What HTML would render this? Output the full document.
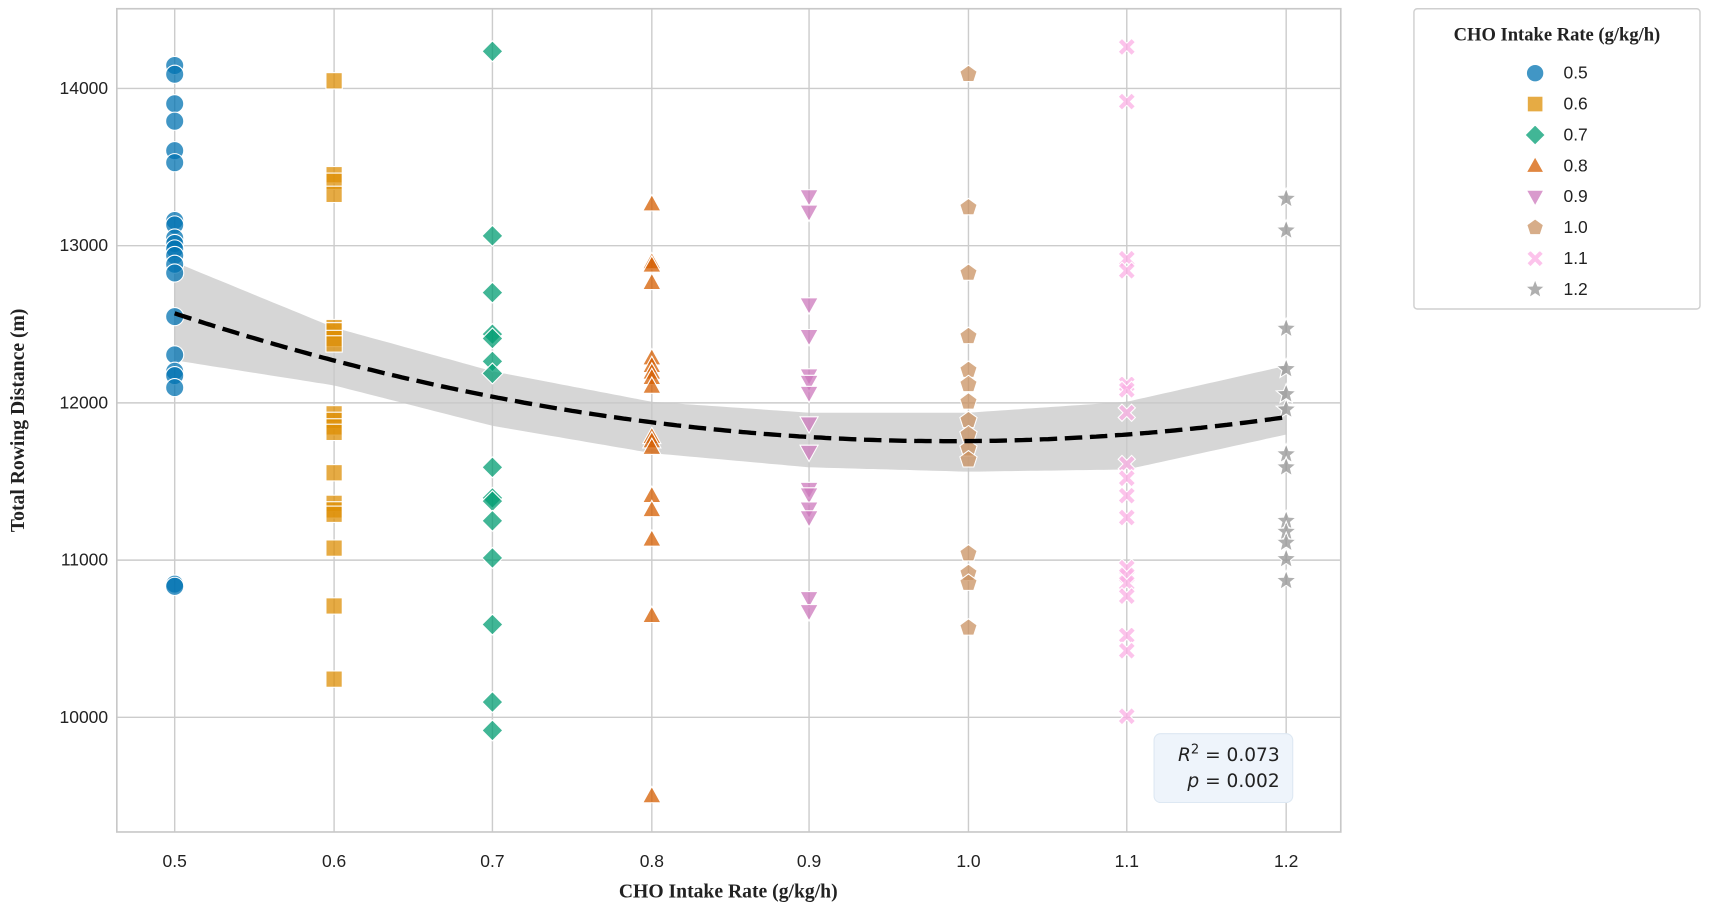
<!DOCTYPE html>
<html><head><meta charset="utf-8"><style>
html,body{margin:0;padding:0;background:#fff;}
svg{display:block;}
</style></head><body>
<svg id="s" width="1712" height="913" viewBox="0 0 1568 836.2" xmlns="http://www.w3.org/2000/svg">
<rect x="0" y="0" width="1568" height="837" fill="#fff"/>
<g id="grid" stroke="#cccccc" stroke-width="1.3"></g>
<path id="band" fill="#c8c8c8" fill-opacity="0.75"/>
<g id="pts"></g>
<path id="fit" fill="none" stroke="#000" stroke-width="4" stroke-dasharray="16,7"/>
<rect x="107" y="8" width="1121" height="754" fill="none" stroke="#c8c8c8" stroke-width="1.5"/>
<g id="tl" font-family="Liberation Sans, Arial, sans-serif" font-size="16" fill="#222"></g>
<text x="667" y="822" text-anchor="middle" font-family="Liberation Serif, serif" font-weight="bold" font-size="18" fill="#222">CHO Intake Rate (g/kg/h)</text>
<text transform="translate(22,385) rotate(-90)" text-anchor="middle" font-family="Liberation Serif, serif" font-weight="bold" font-size="18" fill="#222">Total Rowing Distance (m)</text>
<rect x="1057" y="672" width="127" height="63" rx="6" fill="#eef4fb" stroke="#dde8f3"/>
<text x="1172" y="697" text-anchor="end" font-family="DejaVu Sans, sans-serif" font-size="17" fill="#222"><tspan font-style="italic">R</tspan><tspan dy="-7" font-size="12">2</tspan><tspan dy="7"> = 0.073</tspan></text>
<text x="1172" y="721" text-anchor="end" font-family="DejaVu Sans, sans-serif" font-size="17" fill="#222"><tspan font-style="italic">p</tspan> = 0.002</text>
<rect x="1295" y="8" width="262" height="275" rx="3" fill="#fff" stroke="#cfcfcf" stroke-width="1.3"/>
<text x="1426" y="37" text-anchor="middle" font-family="Liberation Serif, serif" font-weight="bold" font-size="17" fill="#222">CHO Intake Rate (g/kg/h)</text>
<g id="leg" font-family="Liberation Sans, Arial, sans-serif" font-size="16" fill="#222"></g>
</svg>
<script>
const NS="http://www.w3.org/2000/svg";
function el(p,t,a,txt){const e=document.createElementNS(NS,t);for(const k in a)e.setAttribute(k,a[k]);if(txt!==undefined)e.textContent=txt;p.appendChild(e);return e;}
const xs=[160,306,451,597,741,887,1032,1178];
const labs=["0.5","0.6","0.7","0.8","0.9","1.0","1.1","1.2"];
const ys=[81,225,369,513,657],ylabs=["14000","13000","12000","11000","10000"];
const g=document.getElementById('grid'),tl=document.getElementById('tl');
xs.forEach((x,i)=>{el(g,'line',{x1:x,y1:8,x2:x,y2:762});el(tl,'text',{x:x,y:794,'text-anchor':'middle'},labs[i]);});
ys.forEach((y,i)=>{el(g,'line',{x1:107,y1:y,x2:1228,y2:y});el(tl,'text',{x:99,y:y+5,'text-anchor':'end'},ylabs[i]);});
const cols=["#0173b2","#de8f05","#029e73","#d55e00","#cc78bc","#ca9161","#fbafe4","#949494"];
function marker(p,k,x,y,c,r){
 const a={fill:c,'fill-opacity':0.75,stroke:'#fff','stroke-width':1};
 let pts;
 switch(k){
 case 0: return el(p,'circle',Object.assign({cx:x,cy:y,r:r},a));
 case 1: return el(p,'rect',Object.assign({x:x-r*0.9,y:y-r*0.9,width:r*1.8,height:r*1.8},a));
 case 2: pts=[[0,-r*1.15],[r*1.15,0],[0,r*1.15],[-r*1.15,0]];break;
 case 3: pts=[[0,-r*1.05],[r*1.0,r*0.75],[-r*1.0,r*0.75]];break;
 case 4: pts=[[0,r*1.05],[r*1.0,-r*0.75],[-r*1.0,-r*0.75]];break;
 case 5: pts=[];for(let i=0;i<5;i++){const t=-Math.PI/2+i*2*Math.PI/5;pts.push([r*Math.cos(t),r*Math.sin(t)]);}break;
 case 6: {const w=r*0.42,L=r*0.95;pts=[[-L,-L+w],[-L+w,-L],[0,-w],[L-w,-L],[L,-L+w],[w,0],[L,L-w],[L-w,L],[0,w],[-L+w,L],[-L,L-w],[-w,0]];}break;
 case 7: pts=[];for(let i=0;i<10;i++){const t=-Math.PI/2+i*Math.PI/5;const rr=i%2?r*0.5:r*1.15;pts.push([rr*Math.cos(t),rr*Math.sin(t)]);}break;
 }
 return el(p,'polygon',Object.assign({points:pts.map(q=>(x+q[0])+','+(y+q[1])).join(' ')},a));
}
const data=[
[60,68,95,111,138,149,202,206,218,223,228,234,242,250,290,325,340,344,355,535,537],
[74,160,166,178,300,303,310,315,379,385,391,396,433,461,467,471,502,555,622],
[47,216,268,306,310,331,342,428,456,459,477,511,572,643,669],
[187,240,243,259,328,335,341,346,354,400,404,410,454,467,494,564,729],
[180,194,279,308,344,350,360,388,414,448,453,466,474,548,560],
[68,190,250,308,339,352,368,385,398,411,421,507,525,534,575],
[43,93,237,248,352,357,378,425,438,454,474,520,527,534,546,582,596,656],
[182,211,301,338,361,375,416,428,477,487,497,512,532]];
const P=document.getElementById('pts');
data.forEach((arr,k)=>arr.forEach(y=>marker(P,k,xs[k],y,cols[k],8.3)));
const up=[240,300,340,368,378,378,368,335],lo=[330,353,390,415,428,432,430,398];
function interp(arr,x){for(let i=0;i<7;i++){if(x<=xs[i+1]){const t=(x-xs[i])/(xs[i+1]-xs[i]);return arr[i]+(arr[i+1]-arr[i])*t;}}return arr[7];}
let d='M';for(let x=160;x<=1178;x+=6)d+=x+','+interp(up,x).toFixed(1)+' L';
d+='1178,'+up[7];for(let x=1178;x>=160;x-=6)d+=' L'+x+','+interp(lo,x).toFixed(1);d+=' L160,'+lo[0]+'Z';
document.getElementById('band').setAttribute('d',d);
const u2=(887-160)/1018;const a2=(117-95*u2)/(u2*u2-u2);const a1=95-a2;
function q(x){const u=(x-160)/1018;return 287+u*a1+u*u*a2;}
let f='M';for(let x=160;x<=1178;x+=4)f+=x+','+q(x).toFixed(1)+' L';f=f.slice(0,-2);
document.getElementById('fit').setAttribute('d',f);
const L=document.getElementById('leg');
labs.forEach((t,i)=>{const y=67+i*28.3;marker(L,i,1406,y,cols[i],8);el(L,'text',{x:1432,y:y+5},t);});
</script>
</body></html>
